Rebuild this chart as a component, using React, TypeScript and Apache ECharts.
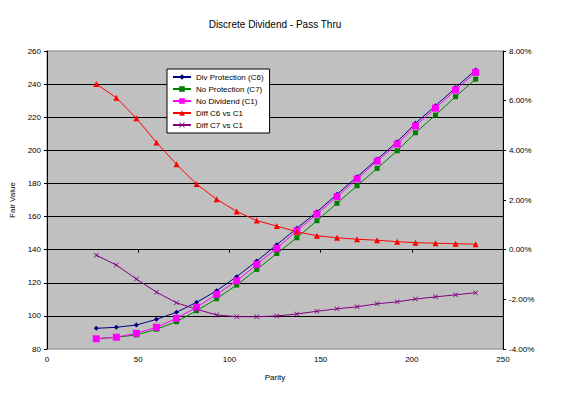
import React, { useEffect, useRef } from "react";
import * as echarts from "echarts";

const parity = [27, 38, 49, 60, 71, 82, 93, 104, 115, 126, 137, 148, 159, 170, 181, 192, 202, 213, 224, 235];
const divProtectionC6 = [92.5, 93.1, 94.5, 97.9, 102.2, 108.2, 115.2, 123.7, 133.1, 143.0, 152.9, 162.9, 173.4, 184.0, 194.6, 205.2, 216.3, 226.9, 237.8, 248.5];
const noProtectionC7 = [86.2, 87.1, 88.5, 91.9, 96.5, 103.1, 110.4, 118.6, 128.1, 137.7, 147.2, 157.5, 168.0, 178.6, 189.1, 199.7, 210.6, 221.3, 232.4, 243.0];
const noDividendC1 = [86.2, 87.1, 89.5, 93.1, 98.5, 105.2, 113.0, 121.2, 131.1, 140.8, 151.4, 161.5, 172.0, 182.7, 193.5, 203.8, 214.7, 225.5, 236.4, 247.1];
const diffC6vsC1 = [6.67, 6.12, 5.29, 4.32, 3.44, 2.64, 2.03, 1.54, 1.17, 0.95, 0.72, 0.56, 0.48, 0.42, 0.38, 0.32, 0.28, 0.26, 0.24, 0.22];
const diffC7vsC1 = [-0.22, -0.62, -1.18, -1.71, -2.14, -2.40, -2.63, -2.70, -2.70, -2.67, -2.59, -2.48, -2.38, -2.30, -2.18, -2.10, -1.99, -1.90, -1.82, -1.73];

const seriesNames = ["Div Protection (C6)", "No Protection (C7)", "No Dividend (C1)", "Diff C6 vs C1", "Diff C7 vs C1"];

const FONT = "Liberation Sans, Arial, sans-serif";
const crossPath = "path://M0,1L1,0L5,4L9,0L10,1L6,5L10,9L9,10L5,6L1,10L0,9L4,5Z";

const pairs = (ys: number[]) => parity.map((x, i) => [x, ys[i]]);

export default function App() {
  const ref = useRef<HTMLDivElement>(null);
  useEffect(() => {
    if (!ref.current) return;
    const chart = echarts.init(ref.current, null, { renderer: "svg" });
    const mk = (name: string, data: number[], color: string, symbol: string, size: number, yAxisIndex: number) => ({
      name,
      type: "line",
      yAxisIndex,
      data: pairs(data),
      symbol,
      symbolSize: size,
      showSymbol: true,
      lineStyle: { color, width: 1 },
      itemStyle: { color, borderWidth: 0 },
      z: 3,
    });
    chart.setOption({
      animation: false,
      backgroundColor: "#ffffff",
      textStyle: { fontFamily: FONT },
      title: {
        text: "Discrete Dividend - Pass Thru",
        left: 270,
        top: 14,
        textAlign: "center",
        textStyle: { fontFamily: FONT, fontSize: 10, fontWeight: "normal", color: "#000" },
      },
      legend: {
        orient: "vertical",
        left: 167,
        top: 69,
        width: 97,
        backgroundColor: "#ffffff",
        borderColor: "#000000",
        borderWidth: 1,
        padding: [4, 6, 4, 5],
        itemGap: 4,
        itemWidth: 18,
        itemHeight: 7,
        data: seriesNames,
        textStyle: { fontFamily: FONT, fontSize: 8, color: "#000" },
      },
      grid: {
        left: 47,
        right: 72,
        top: 51,
        bottom: 45,
        show: true,
        backgroundColor: "#C0C0C0",
        borderColor: "#808080",
        borderWidth: 1,
      },
      xAxis: {
        type: "value",
        min: 0,
        max: 250,
        interval: 50,
        name: "Parity",
        nameLocation: "middle",
        nameGap: 24,
        nameTextStyle: { fontFamily: FONT, fontSize: 8, color: "#000" },
        axisLine: { show: true, lineStyle: { color: "#000", width: 1 } },
        axisTick: { show: true, length: 3, lineStyle: { color: "#000" } },
        axisLabel: { fontFamily: FONT, fontSize: 8, color: "#000", margin: 6 },
        splitLine: { show: false },
      },
      yAxis: [
        {
          type: "value",
          min: 80,
          max: 260,
          interval: 20,
          name: "Fair Value",
          nameLocation: "middle",
          nameGap: 30,
          nameRotate: 90,
          nameTextStyle: { fontFamily: FONT, fontSize: 8, color: "#000" },
          axisLine: { show: true, lineStyle: { color: "#000", width: 1 } },
          axisTick: { show: true, length: 3, lineStyle: { color: "#000" } },
          axisLabel: { fontFamily: FONT, fontSize: 8, color: "#000", margin: 6 },
          splitLine: { show: true, showMinLine: false, showMaxLine: false, lineStyle: { color: "#000", width: 1 } },
        },
        {
          type: "value",
          min: -4,
          max: 8,
          interval: 2,
          position: "right",
          axisLine: { show: true, lineStyle: { color: "#000", width: 1 } },
          axisTick: { show: true, length: 3, inside: false, lineStyle: { color: "#000" } },
          axisLabel: {
            fontFamily: FONT,
            fontSize: 8,
            color: "#000",
            margin: 6,
            formatter: (v: number) => v.toFixed(2) + "%",
          },
          splitLine: { show: false },
        },
      ],
      series: [
        mk(seriesNames[0], divProtectionC6, "#000080", "diamond", 5, 0),
        mk(seriesNames[1], noProtectionC7, "#008000", "rect", 5, 0),
        mk(seriesNames[2], noDividendC1, "#FF00FF", "rect", 7, 0),
        mk(seriesNames[3], diffC6vsC1, "#FF0000", "triangle", 6, 1),
        mk(seriesNames[4], diffC7vsC1, "#800080", crossPath, 5, 1),
      ],
    });
    return () => chart.dispose();
  }, []);
  return <div ref={ref} style={{ width: 575, height: 394, position: "absolute", left: 0, top: 0 }} />;
}
